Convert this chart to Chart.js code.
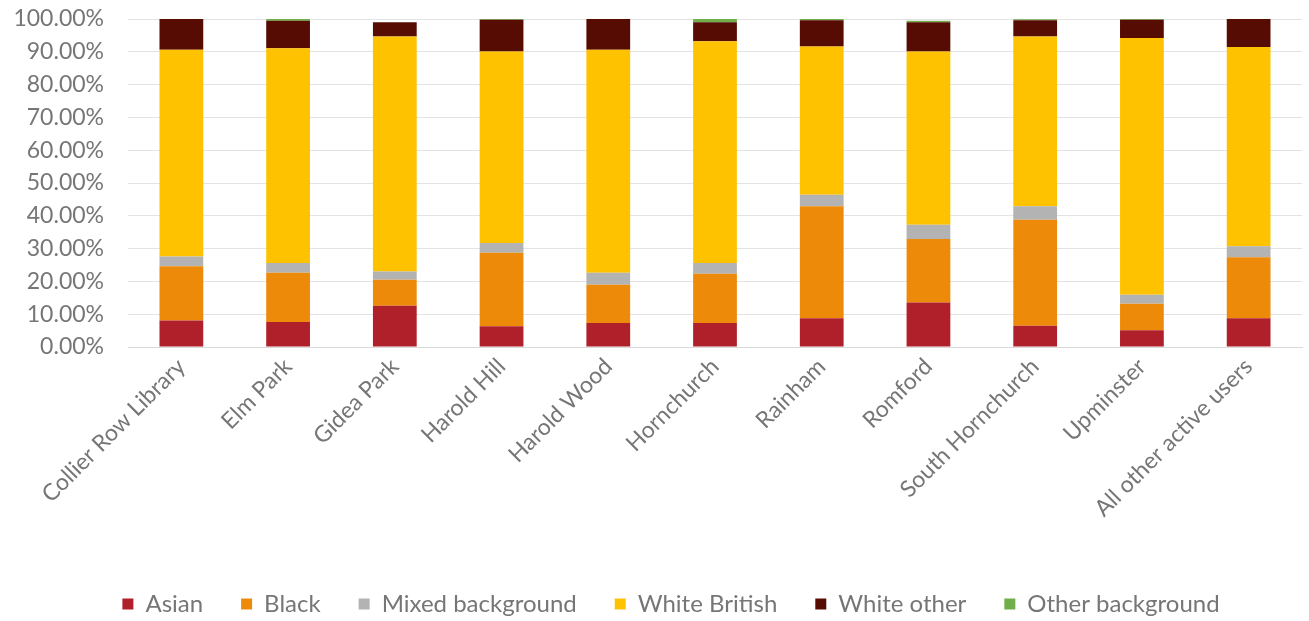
<!DOCTYPE html>
<html>
<head>
<meta charset="utf-8">
<script src="https://cdn.jsdelivr.net/npm/chart.js@4"></script>
<style>
html,body{margin:0;padding:0;background:#fff;}
#wrap{width:1309px;height:621px;}
</style>
</head>
<body>
<div id="wrap"><canvas id="c" width="1309" height="621"></canvas></div>
<script>
const categories = ["Collier Row Library","Elm Park","Gidea Park","Harold Hill","Harold Wood","Hornchurch","Rainham","Romford","South Hornchurch","Upminster","All other active users"];
const asian        = [8.1, 7.6, 12.6, 6.3, 7.3, 7.3, 8.8, 13.6, 6.5, 5.1, 8.8];
const black        = [16.5, 15.0, 7.9, 22.4, 11.7, 15.0, 34.1, 19.3, 32.3, 8.1, 18.6];
const mixed        = [3.0, 3.0, 2.5, 3.0, 3.6, 3.3, 3.5, 4.4, 4.1, 2.7, 3.3];
const whiteBritish = [63.0, 65.5, 71.7, 58.4, 68.0, 67.6, 45.2, 52.8, 51.8, 78.3, 60.8];
const whiteOther   = [9.4, 8.4, 4.3, 9.7, 9.4, 5.8, 8.0, 8.9, 4.9, 5.6, 8.5];
const otherBg      = [0.0, 0.5, 0.0, 0.2, 0.0, 1.0, 0.4, 0.5, 0.3, 0.2, 0.0];
const yTicks = [0,10,20,30,40,50,60,70,80,90,100];

const FONT = "Lato, 'Open Sans', sans-serif";
const TXT = "#767676";
const LEGEND_H = 67;
const LEGEND_SHIFT = 20;

const series = [
  ["Asian", asian, "#B0202A"],
  ["Black", black, "#EE8A0A"],
  ["Mixed background", mixed, "#B3B3B3"],
  ["White British", whiteBritish, "#FFC200"],
  ["White other", whiteOther, "#560C02"],
  ["Other background", otherBg, "#6FAE48"]
];

const legendFix = {
  id: 'legendFix',
  beforeLayout(chart) {
    const lg = chart.legend;
    if (lg && !lg._patched) {
      const origFit = lg.fit.bind(lg);
      lg.fit = function() { origFit(); this.height = LEGEND_H; };
      const origDraw = lg.draw.bind(lg);
      lg.draw = function() {
        const ctx = this.ctx;
        ctx.save(); ctx.translate(LEGEND_SHIFT, 0); origDraw(); ctx.restore();
      };
      lg._patched = true;
    }
  }
};

new Chart(document.getElementById('c'), {
  type: 'bar',
  data: {
    labels: categories,
    datasets: series.map(s => ({
      label: s[0], data: s[1], backgroundColor: s[2], borderWidth: 0,
      barPercentage: 0.41, categoryPercentage: 1.0
    }))
  },
  plugins: [legendFix],
  options: {
    responsive: false,
    animation: false,
    layout: { padding: { top: 0, right: 7, left: 0, bottom: 0 } },
    plugins: {
      legend: {
        position: 'bottom',
        labels: {
          boxWidth: 11, boxHeight: 11, padding: 38,
          color: TXT, font: { family: FONT, size: 24 }
        }
      },
      tooltip: { enabled: false }
    },
    scales: {
      x: {
        stacked: true,
        grid: { display: false, drawTicks: false },
        border: { display: true, color: '#d9d9d9' },
        ticks: {
          color: TXT, font: { family: FONT, size: 23 },
          minRotation: 45, maxRotation: 45, autoSkip: false, padding: 6
        },
        afterFit: s => { s.height = 207; s.paddingTop = 0; }
      },
      y: {
        stacked: true, min: 0, max: 100,
        afterBuildTicks: s => { s.ticks = yTicks.map(v => ({ value: v })); },
        grid: { color: '#e3e3e3', drawTicks: false },
        border: { display: false },
        ticks: {
          color: TXT, font: { family: FONT, size: 23 }, padding: 24,
          callback: v => v.toFixed(2) + '%'
        },
        afterFit: s => { s.width = 128; s.paddingTop = 19; s.paddingBottom = 0; }
      }
    }
  }
});
</script>
</body>
</html>
